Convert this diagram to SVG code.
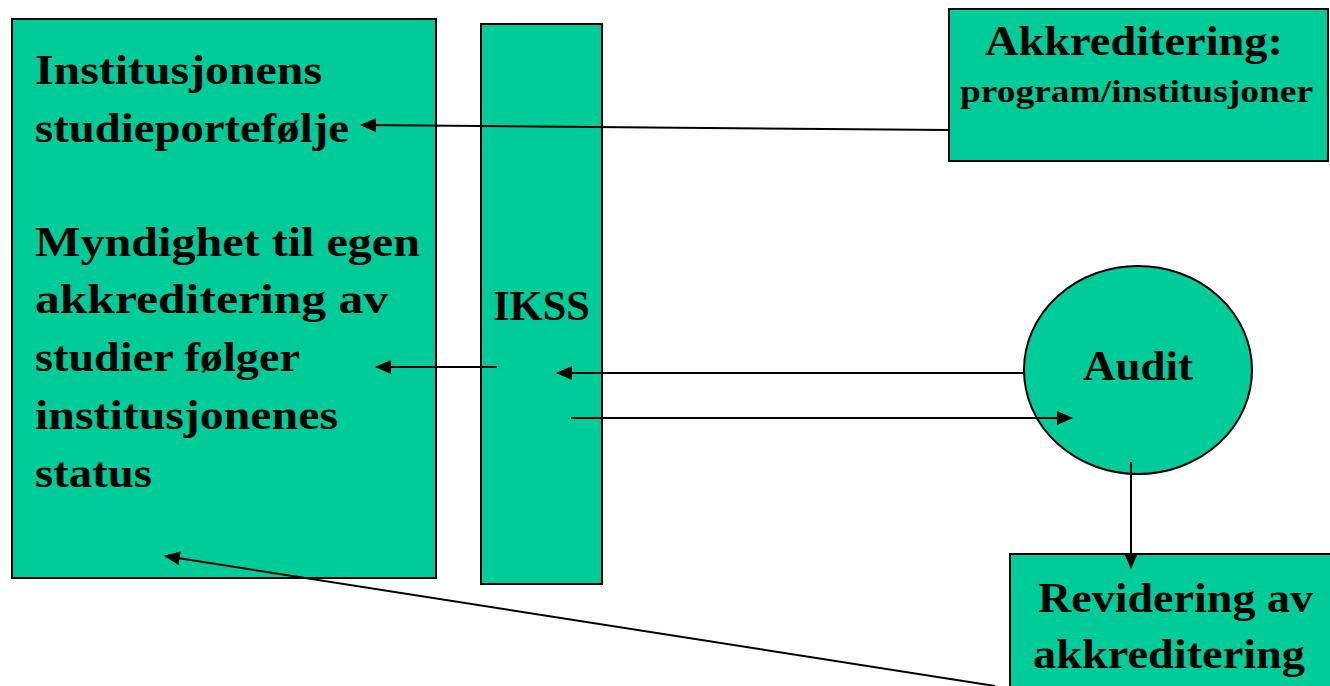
<svg xmlns="http://www.w3.org/2000/svg" width="1330" height="686" viewBox="0 0 1330 686">
<style>
.box{fill:#00CC99;stroke:#000;stroke-width:2}
.t{font-family:"Liberation Serif","DejaVu Serif",serif;font-weight:bold;font-size:43px;fill:#000}
.s{font-size:32px}
.c{fill:none;stroke:#000;stroke-width:2}
</style>
<defs>
<marker id="ah" markerUnits="userSpaceOnUse" markerWidth="16" markerHeight="14" refX="15" refY="7" orient="auto">
<path d="M0,0 L16,7 L0,14 Z" fill="#000"/>
</marker>
</defs>
<rect width="1330" height="686" fill="#fff"/>
<g id="portfolio">
<rect class="box" x="12" y="19" width="424" height="559"/>
<text class="t" x="35" y="84" textLength="287" lengthAdjust="spacingAndGlyphs">Institusjonens</text>
<text class="t" x="35" y="142" textLength="314" lengthAdjust="spacingAndGlyphs">studieportefølje</text>
<text class="t" x="35" y="256" textLength="385" lengthAdjust="spacingAndGlyphs">Myndighet til egen</text>
<text class="t" x="35" y="313" textLength="353" lengthAdjust="spacingAndGlyphs">akkreditering av</text>
<text class="t" x="35" y="371" textLength="265" lengthAdjust="spacingAndGlyphs">studier følger</text>
<text class="t" x="35" y="429" textLength="303" lengthAdjust="spacingAndGlyphs">institusjonenes</text>
<text class="t" x="35" y="487" textLength="117" lengthAdjust="spacingAndGlyphs">status</text>
</g>
<g id="ikss">
<rect class="box" x="481" y="24" width="121" height="560"/>
<text class="t" x="493" y="320" textLength="97" lengthAdjust="spacingAndGlyphs">IKSS</text>
</g>
<g id="akkreditering">
<rect class="box" x="949" y="9" width="379" height="152"/>
<text class="t" x="985" y="55" textLength="298" lengthAdjust="spacingAndGlyphs">Akkreditering:</text>
<text class="t s" x="960" y="102" textLength="353" lengthAdjust="spacingAndGlyphs">program/institusjoner</text>
</g>
<g id="audit">
<ellipse class="box" cx="1138" cy="370" rx="114" ry="104"/>
<text class="t" x="1083" y="380" textLength="110" lengthAdjust="spacingAndGlyphs">Audit</text>
</g>
<g id="revidering">
<rect class="box" x="1010" y="554" width="330" height="140"/>
<text class="t" x="1038" y="612" textLength="275" lengthAdjust="spacingAndGlyphs">Revidering av</text>
<text class="t" x="1033" y="668" textLength="272" lengthAdjust="spacingAndGlyphs">akkreditering</text>
</g>
<g id="connectors">
<line class="c" x1="949" y1="130" x2="361" y2="125" marker-end="url(#ah)"/>
<line class="c" x1="497" y1="367" x2="376" y2="367" marker-end="url(#ah)"/>
<line class="c" x1="1025" y1="373" x2="557" y2="373" marker-end="url(#ah)"/>
<line class="c" x1="571" y1="418" x2="1072" y2="418" marker-end="url(#ah)"/>
<line class="c" x1="1131" y1="462" x2="1131" y2="568" marker-end="url(#ah)"/>
<line class="c" x1="995" y1="686" x2="165" y2="556" marker-end="url(#ah)"/>
</g>
</svg>
